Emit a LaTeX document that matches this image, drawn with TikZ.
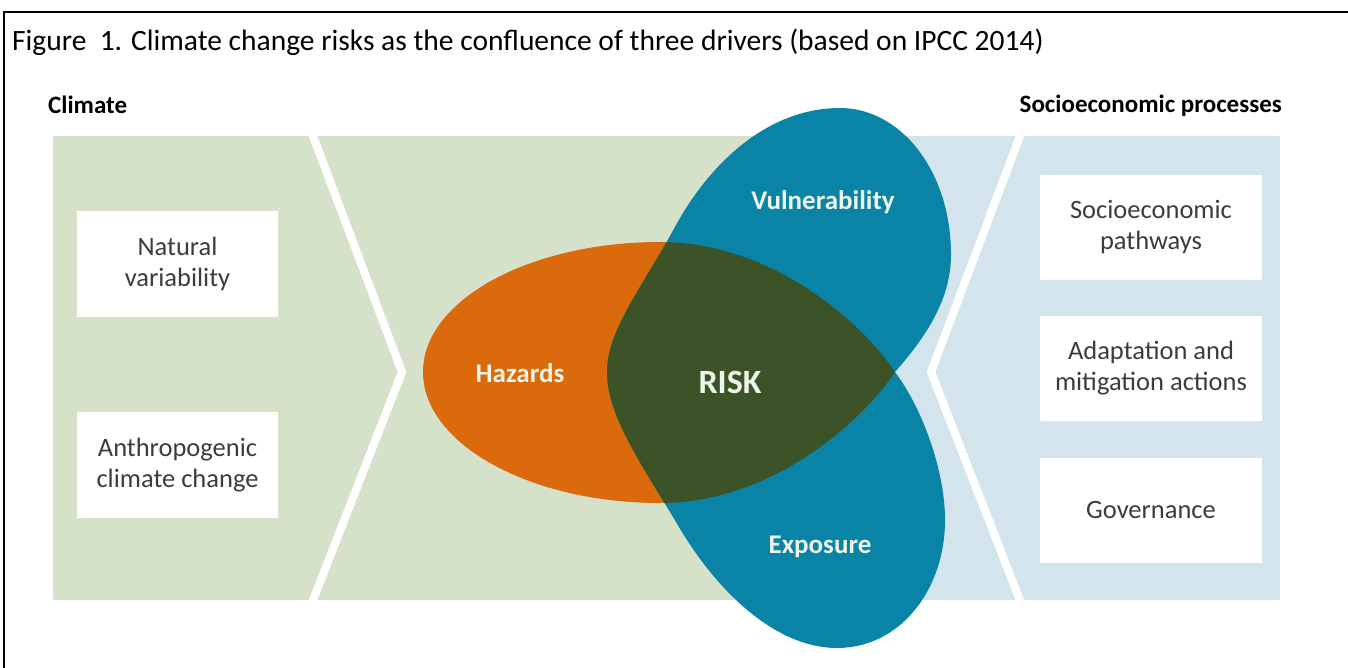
\documentclass[tikz,border=0pt]{standalone}
\usepackage{fontspec}
\setmainfont{Carlito}
\definecolor{greenpanel}{RGB}{213,225,201}
\definecolor{bluepanel}{RGB}{211,228,237}
\definecolor{hazorange}{RGB}{219,106,12}
\definecolor{vulblue}{RGB}{10,132,166}
\definecolor{riskgreen}{RGB}{59,83,39}
\definecolor{lbltext}{RGB}{238,244,232}
\definecolor{boxtext}{RGB}{60,60,60}
\newcommand{\hazardshape}{(423,372) .. controls (423,300) and (530,242) .. (660,242)
  .. controls (770,242) and (860,320) .. (895,372)
  .. controls (860,424) and (770,503) .. (660,503)
  .. controls (530,503) and (423,444) .. (423,372) -- cycle}
\newcommand{\petalshape}{(895,372) .. controls (925,338) and (951,300) .. (951,255)
  .. controls (951,170) and (900,108) .. (840,108)
  .. controls (770,108) and (712,160) .. (676,225)
  .. controls (642,288) and (607,330) .. (607,372)
  .. controls (607,415) and (640,462) .. (676,522)
  .. controls (715,590) and (775,648) .. (837,648)
  .. controls (900,648) and (945,590) .. (945,520)
  .. controls (945,470) and (922,408) .. (895,372) -- cycle}
\begin{document}
\begin{tikzpicture}[x=1pt,y=-1pt,
  inbox/.style={fill=white, minimum width=201pt, minimum height=106pt, align=center,
    text=boxtext, font=\fontsize{26.5}{31}\selectfont, inner sep=0pt},
  outbox/.style={fill=white, minimum width=222pt, minimum height=105pt, align=center,
    text=boxtext, font=\fontsize{26.5}{31}\selectfont, inner sep=0pt},
  lbl/.style={text=lbltext, font=\bfseries\fontsize{27}{30}\selectfont, inner sep=0pt},
  heading/.style={font=\bfseries\fontsize{25}{28}\selectfont, text=black, inner sep=0pt},
  chevron/.style={draw=white, line width=8pt, line join=miter}]
\useasboundingbox (0,0) rectangle (1348,668);
\fill[white] (0,0) rectangle (1348,668);
\draw[line width=2pt] (4,668) -- (4,12) -- (1348,12);
\node[anchor=base west, inner sep=0pt, font=\fontsize{29.5}{33}\selectfont] (title) at (12,51)
  {Figure\ \ 1. Climate change risks as the confluence of three drivers (based on IPCC 2014)};
\node[heading, anchor=base west] (climate) at (48,114) {Climate};
\node[heading, anchor=base east] (socio) at (1282,113) {Socioeconomic processes};
% panels
\fill[greenpanel] (53,136) rectangle (870,600);
\fill[bluepanel] (870,136) rectangle (1280,600);
\draw[chevron] (310,128) -- (402,372) -- (310,608);
\draw[chevron] (1023,128) -- (931,372) -- (1023,608);
% boxes
\node[inbox] (natural) at (177.5,264) {Natural\\variability};
\node[inbox] (anthro) at (177.5,465) {Anthropogenic\\climate change};
\node[outbox] (pathways) at (1151,227.5) {Socioeconomic\\pathways};
\node[outbox] (adapt) at (1151,368.5) {Adaptation and\\mitigation actions};
\node[outbox] (gov) at (1151,510) {Governance};
% shapes
\fill[hazorange] \hazardshape;
\fill[vulblue] \petalshape;
\begin{scope}
  \clip \hazardshape;
  \fill[riskgreen] \petalshape;
\end{scope}
\node[lbl] (hazards) at (520,373) {Hazards};
\node[lbl, font=\bfseries\fontsize{34}{38}\selectfont] (risk) at (730,382) {RISK};
\node[lbl] (vuln) at (823,202) {Vulnerability};
\node[lbl] (expo) at (820,547) {Exposure};
\end{tikzpicture}
\end{document}
